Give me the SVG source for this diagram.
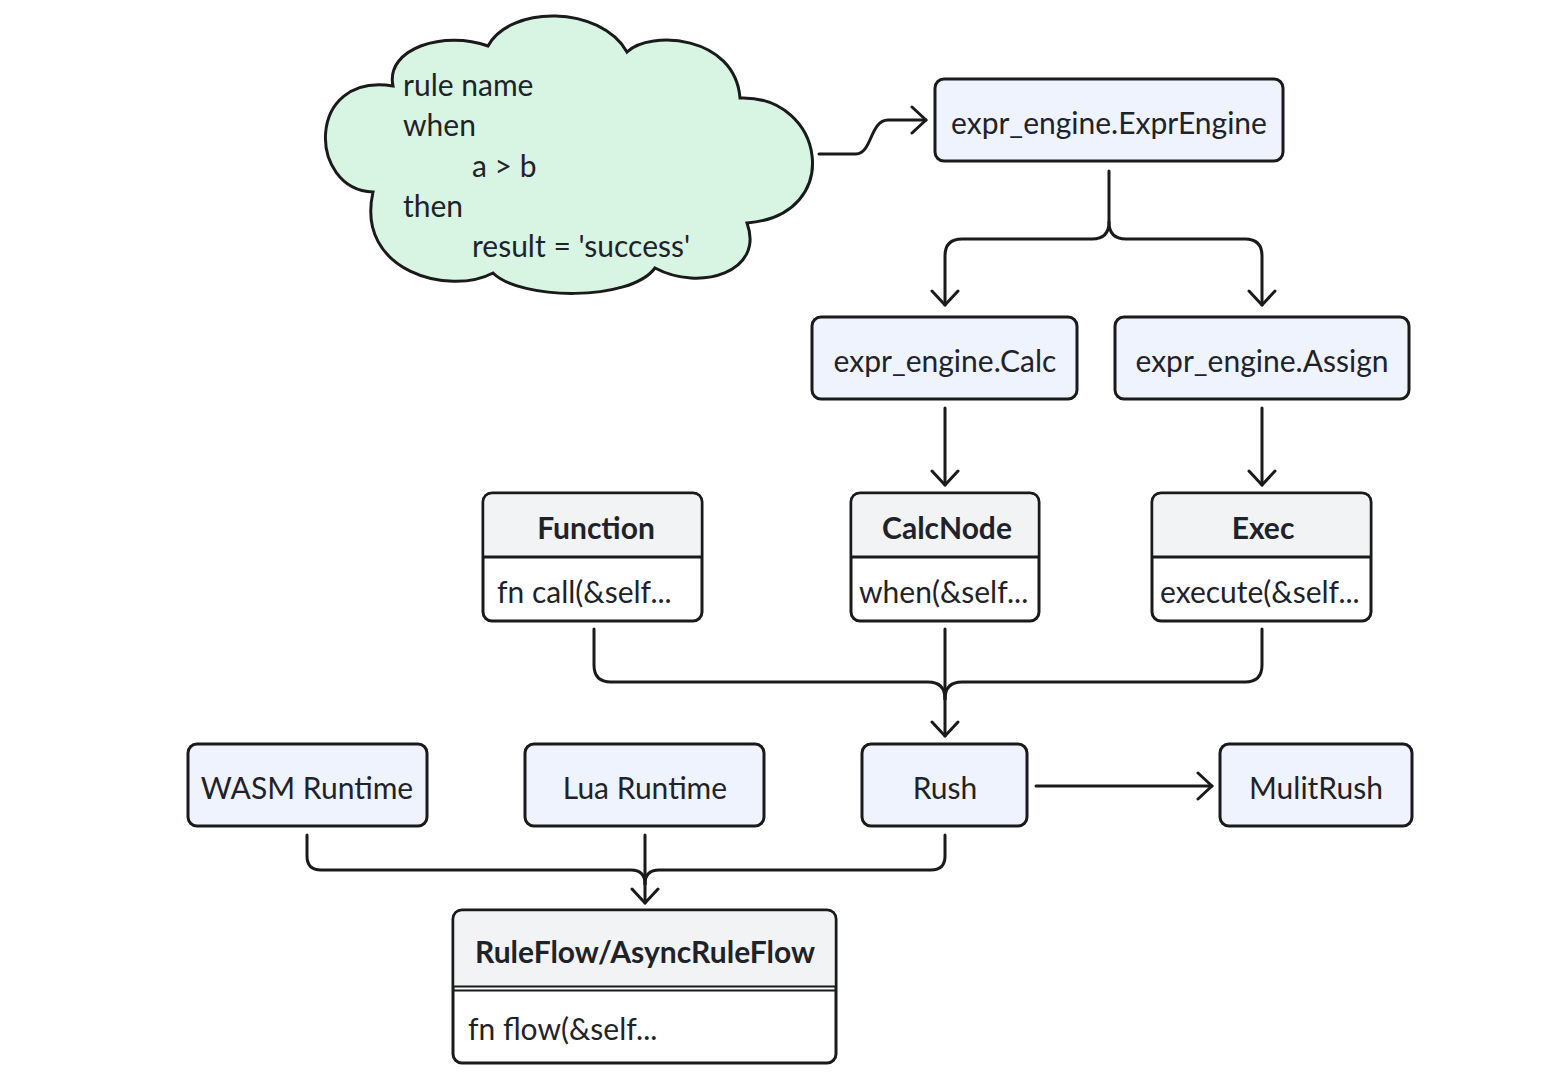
<svg xmlns="http://www.w3.org/2000/svg" width="1542" height="1078" viewBox="0 0 1542 1078">
<defs>
<marker id="arr" viewBox="0 0 20 30" refX="17" refY="15" markerWidth="20" markerHeight="30" markerUnits="userSpaceOnUse" orient="auto">
<path d="M3,2 L17,15 L3,28" fill="none" stroke="#1a1a1a" stroke-width="3" stroke-linecap="round" stroke-linejoin="round"/>
</marker>
<style>
.box{fill:#eef3fd;stroke:#1a1a1a;stroke-width:3}
.wbox{fill:#ffffff;stroke:#1a1a1a;stroke-width:3}
.hdr{fill:#f2f3f5}
.t{font-family:Lato,"Liberation Sans",sans-serif;font-size:30px;fill:#1f2329}
.b{font-weight:bold}
.c{text-anchor:middle;dominant-baseline:central}
.l{dominant-baseline:central}
.e{fill:none;stroke:#1a1a1a;stroke-width:3;stroke-linecap:round;stroke-linejoin:round}
</style>
</defs>
<rect width="1542" height="1078" fill="#ffffff"/>

<g id="cloud">
<path d="M393,86 C385,48 445,30 488,46 C510,5 600,5 627,52 C650,30 735,35 740,98 C825,95 845,215 747,223 C765,272 700,292 655,268 C630,302 520,300 493,273 C450,296 355,272 373,192 C308,190 305,72 393,86 Z" fill="#d8f5e4" stroke="#1a1a1a" stroke-width="3"/>
<text class="t l" x="403" y="84">rule name</text>
<text class="t l" x="403" y="124">when</text>
<text class="t l" x="472" y="165">a &gt; b</text>
<text class="t l" x="403" y="205">then</text>
<text class="t l" x="472" y="245">result = 'success'</text>
</g>

<g id="exprengine">
<rect class="box" x="935" y="79" width="348" height="82" rx="9"/>
<text class="t c" x="1109" y="122">expr_engine.ExprEngine</text>
</g>
<g id="calc">
<rect class="box" x="812" y="317" width="265" height="82" rx="9"/>
<text class="t c" x="945" y="360">expr_engine.Calc</text>
</g>
<g id="assign">
<rect class="box" x="1115" y="317" width="294" height="82" rx="9"/>
<text class="t c" x="1262" y="360">expr_engine.Assign</text>
</g>

<g id="function">
<rect class="wbox" x="483" y="493" width="219" height="128" rx="9"/>
<path class="hdr" d="M492,494.5 H693 Q700.5,494.5 700.5,502 V556 H484.5 V502 Q484.5,494.5 492,494.5 Z"/>
<line x1="483" y1="557" x2="702" y2="557" stroke="#1a1a1a" stroke-width="3"/>
<text class="t c b" x="596" y="527">Function</text>
<text class="t l" x="497" y="591">fn call(&amp;self...</text>
</g>
<g id="calcnode">
<rect class="wbox" x="851" y="493" width="188" height="128" rx="9"/>
<path class="hdr" d="M860,494.5 H1030 Q1037.5,494.5 1037.5,502 V556 H852.5 V502 Q852.5,494.5 860,494.5 Z"/>
<line x1="851" y1="557" x2="1039" y2="557" stroke="#1a1a1a" stroke-width="3"/>
<text class="t c b" x="947" y="527">CalcNode</text>
<text class="t l" x="859" y="591">when(&amp;self...</text>
</g>
<g id="exec">
<rect class="wbox" x="1152" y="493" width="219" height="128" rx="9"/>
<path class="hdr" d="M1161,494.5 H1362 Q1369.5,494.5 1369.5,502 V556 H1153.5 V502 Q1153.5,494.5 1161,494.5 Z"/>
<line x1="1152" y1="557" x2="1371" y2="557" stroke="#1a1a1a" stroke-width="3"/>
<text class="t c b" x="1263" y="527">Exec</text>
<text class="t l" x="1160" y="591">execute(&amp;self...</text>
</g>

<g id="wasm">
<rect class="box" x="188" y="744" width="239" height="82" rx="9"/>
<text class="t c" x="307" y="787">WASM Runtime</text>
</g>
<g id="lua">
<rect class="box" x="525" y="744" width="239" height="82" rx="9"/>
<text class="t c" x="645" y="787">Lua Runtime</text>
</g>
<g id="rush">
<rect class="box" x="862" y="744" width="165" height="82" rx="9"/>
<text class="t c" x="945" y="787">Rush</text>
</g>
<g id="mulitrush">
<rect class="box" x="1220" y="744" width="192" height="82" rx="9"/>
<text class="t c" x="1316" y="787">MulitRush</text>
</g>

<g id="ruleflow">
<rect class="wbox" x="453" y="910" width="383" height="153" rx="9"/>
<path class="hdr" d="M462,911.5 H827 Q834.5,911.5 834.5,919 V986 H454.5 V919 Q454.5,911.5 462,911.5 Z"/>
<line x1="453" y1="986.5" x2="836" y2="986.5" stroke="#1a1a1a" stroke-width="2"/>
<line x1="453" y1="990.5" x2="836" y2="990.5" stroke="#1a1a1a" stroke-width="2"/>
<text class="t c b" x="645" y="951">RuleFlow/AsyncRuleFlow</text>
<text class="t l" x="468" y="1028">fn flow(&amp;self...</text>
</g>

<g id="connectors">
<path class="e" d="M819,154 H856 C872,154 870,120 888,120 H926" marker-end="url(#arr)"/>
<path class="e" d="M1109,171 V222 Q1109,239 1092,239 H962 Q945,239 945,256 V305" marker-end="url(#arr)"/>
<path class="e" d="M1109,222 Q1109,239 1126,239 H1245 Q1262,239 1262,256 V305" marker-end="url(#arr)"/>
<path class="e" d="M945,408 V485" marker-end="url(#arr)"/>
<path class="e" d="M1262,408 V485" marker-end="url(#arr)"/>
<path class="e" d="M594,629 V665 Q594,682 611,682 H928 Q945,682 945,699"/>
<path class="e" d="M1262,629 V665 Q1262,682 1245,682 H962 Q945,682 945,699"/>
<path class="e" d="M945,629 V736" marker-end="url(#arr)"/>
<path class="e" d="M1036,786 H1212" marker-end="url(#arr)"/>
<path class="e" d="M307,835 V856 Q307,870 321,870 H631 Q645,870 645,884"/>
<path class="e" d="M945,835 V856 Q945,870 931,870 H659 Q645,870 645,884"/>
<path class="e" d="M645,835 V903" marker-end="url(#arr)"/>
</g>
</svg>
